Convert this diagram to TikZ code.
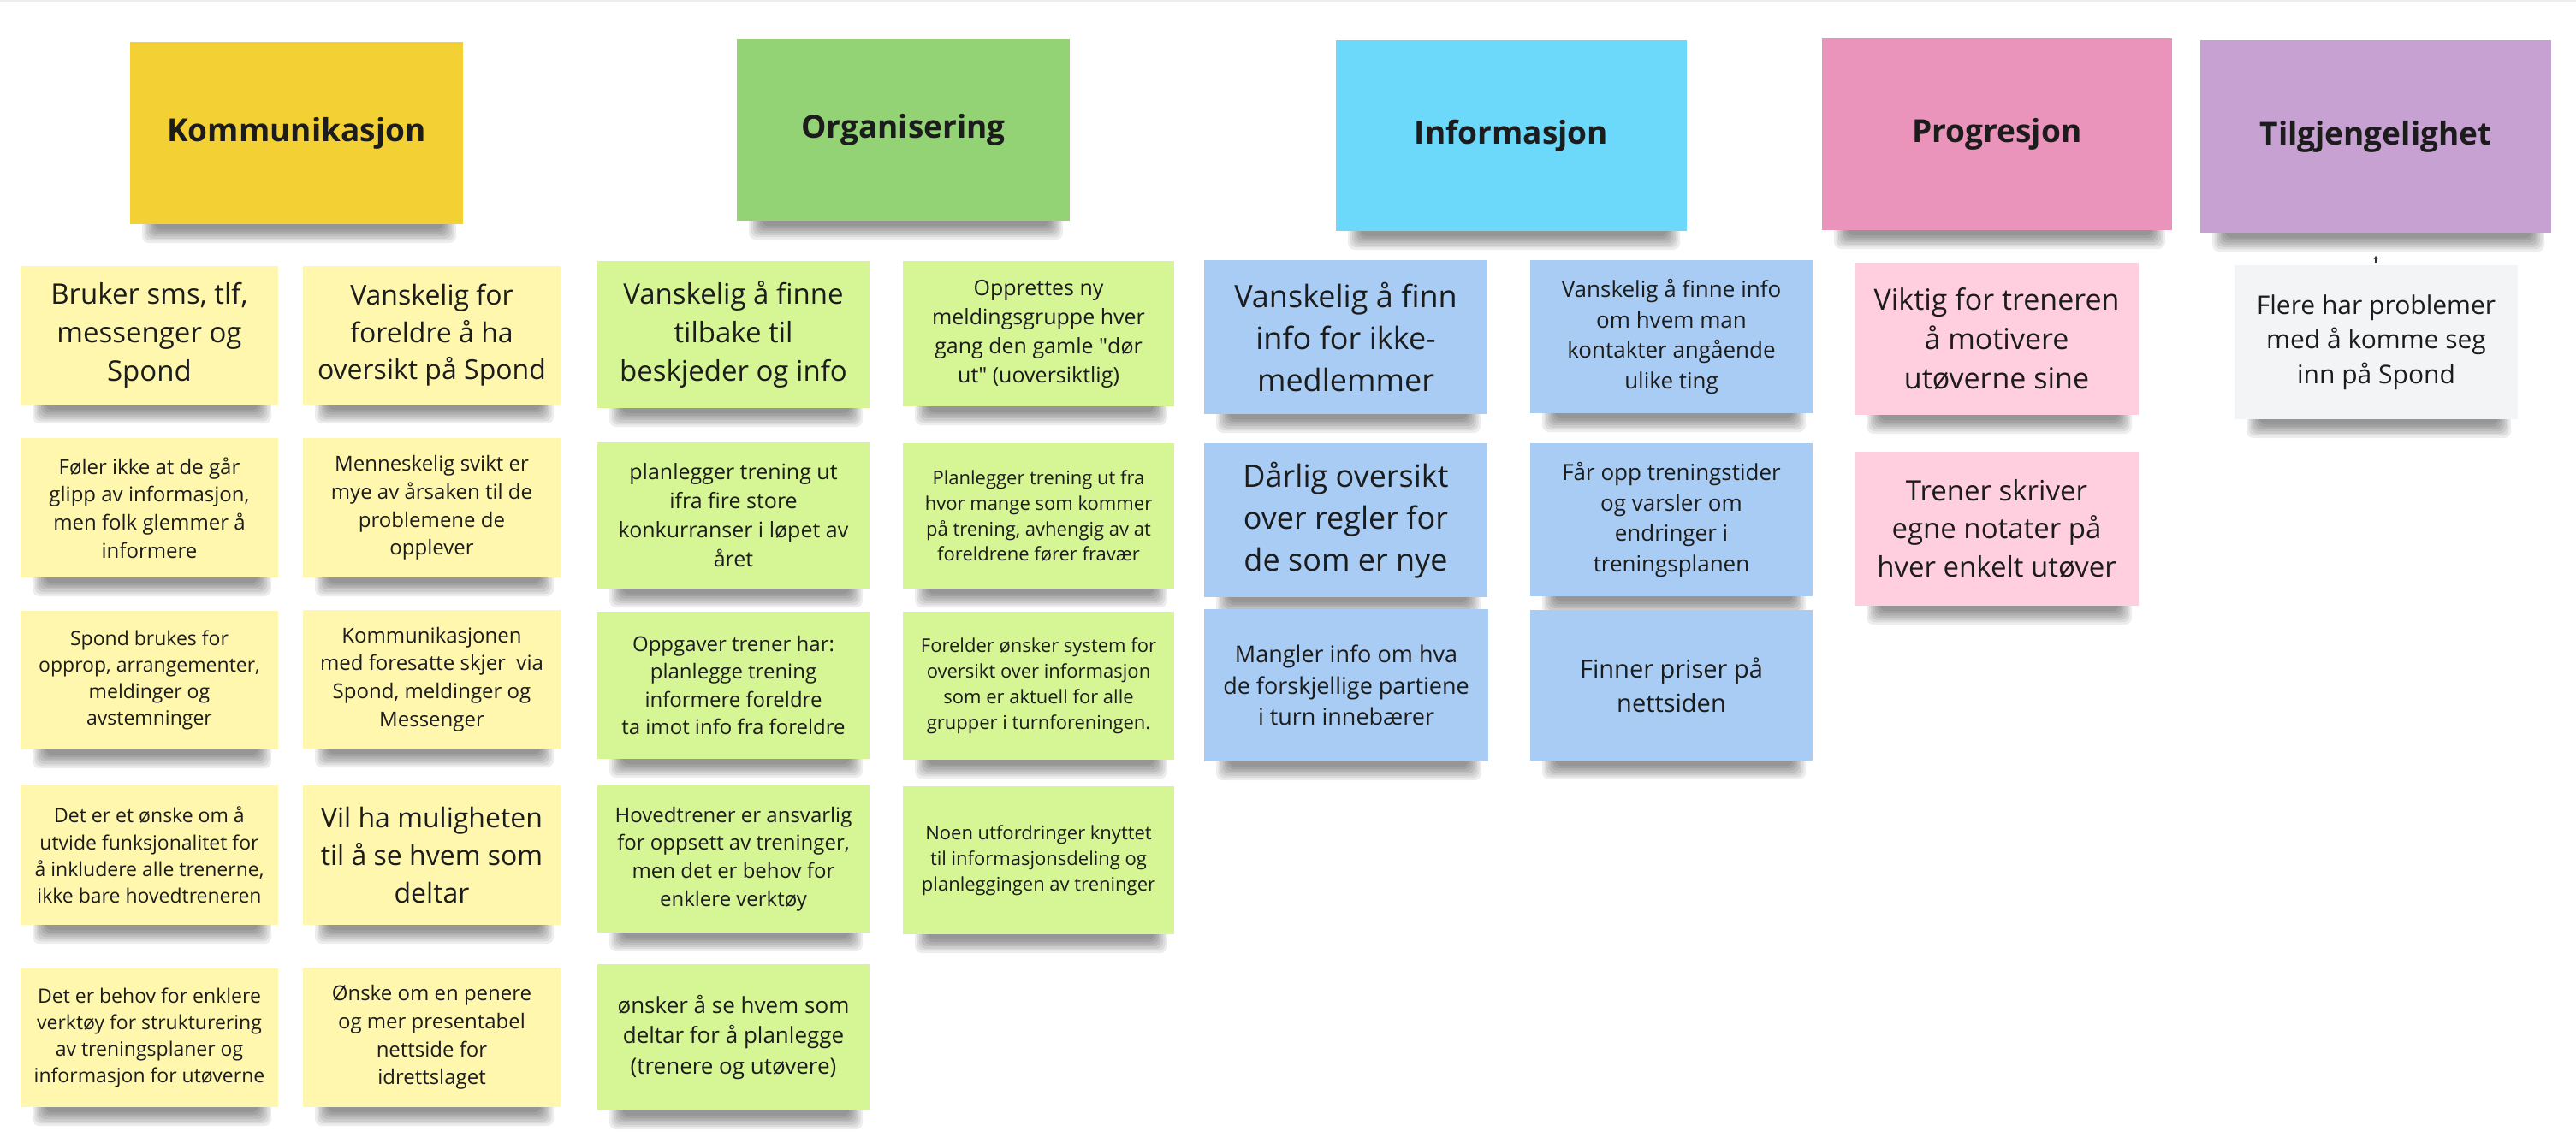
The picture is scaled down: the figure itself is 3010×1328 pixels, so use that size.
\documentclass[tikz,border=0pt]{standalone}
\usepackage{fontspec}
\setmainfont{Open Sans}
\usetikzlibrary{arrows.meta}

% sticky-note palette
\definecolor{hdYellow}{HTML}{F3D033}
\definecolor{hdGreen}{HTML}{93D275}
\definecolor{hdCyan}{HTML}{6CD8FA}
\definecolor{hdPink}{HTML}{EA94BB}
\definecolor{hdViolet}{HTML}{C6A1D1}
\definecolor{ntYellow}{HTML}{FFF7AE}
\definecolor{ntGreen}{HTML}{D6F595}
\definecolor{ntBlue}{HTML}{A8CCF3}
\definecolor{ntPink}{HTML}{FFCEDF}
\definecolor{ntGray}{HTML}{F3F4F6}
\definecolor{ink}{HTML}{1C1C1C}

\tikzset{
  note/.style={draw=none, inner sep=0pt, align=center, text=ink},
  yellowhead/.style={fill=hdYellow},
  greenhead/.style={fill=hdGreen},
  cyanhead/.style={fill=hdCyan},
  pinkhead/.style={fill=hdPink},
  violethead/.style={fill=hdViolet},
  yellownote/.style={fill=ntYellow},
  greennote/.style={fill=ntGreen},
  bluenote/.style={fill=ntBlue},
  pinknote/.style={fill=ntPink},
  graynote/.style={fill=ntGray},
  shadowlayer/.style={fill=black, opacity=0.07, rounded corners=8pt},
}

% \sticky{name}{x1}{y1}{x2}{y2}{style}{font size}{text}
\newcommand\sticky[8]{%
  \foreach \k in {0,...,6}{%
    \fill[shadowlayer] ({#2+14+2.5*\k},{#5-8}) rectangle ({#4-8-2.5*\k},{#5+22-2.6*\k});
  }%
  \node[note, #6, minimum width={(#4-#2)*1pt}, minimum height={(#5-#3)*1pt},
        font=\fontsize{#7}{\dimexpr #7pt*136/100\relax}\selectfont]
    (#1) at ({(#2+#4)/2},{(#3+#5)/2}) {#8};
}
% header notes use the bold face
\newcommand\header[7]{%
  \foreach \k in {0,...,6}{%
    \fill[shadowlayer] ({#2+14+2.5*\k},{#5-8}) rectangle ({#4-8-2.5*\k},{#5+22-2.6*\k});
  }%
  \node[note, #6, minimum width={(#4-#2)*1pt}, minimum height={(#5-#3)*1pt},
        font=\fontsize{#7}{\dimexpr #7pt*136/100\relax}\selectfont\bfseries]
    (#1) at ({(#2+#4)/2},{(#3+#5)/2}) {#1};
}

\begin{document}
\begin{tikzpicture}[x=1pt, y=-1pt]
  \useasboundingbox (0,0) rectangle (3010,1328);
  \fill[white] (0,0) rectangle (3010,1328);
  \fill[black!7] (0,0) rectangle (3010,2);

  % category headers
  \header{Kommunikasjon}{152}{49}{541}{262}{yellowhead}{37}
  \header{Organisering}{861}{46}{1250}{258}{greenhead}{37}
  \header{Informasjon}{1561}{47}{1971}{270}{cyanhead}{37}
  \header{Progresjon}{2129}{45}{2538}{269}{pinkhead}{37}
  \header{Tilgjengelighet}{2571}{47}{2981}{272}{violethead}{37}

  % Kommunikasjon, first column
  \sticky{k1}{24}{311}{325}{473}{yellownote}{33}{Bruker sms, tlf,\\messenger og\\Spond}
  \sticky{k2}{24}{512}{325}{675}{yellownote}{24}{Føler ikke at de går\\glipp av informasjon,\\men folk glemmer å\\informere}
  \sticky{k3}{24}{714}{325}{876}{yellownote}{23}{Spond brukes for\\opprop, arrangementer,\\meldinger og\\avstemninger}
  \sticky{k4}{24}{918}{325}{1081}{yellownote}{23}{Det er et ønske om å\\utvide funksjonalitet for\\å inkludere alle trenerne,\\ikke bare hovedtreneren}
  \sticky{k5}{24}{1132}{325}{1294}{yellownote}{23}{Det er behov for enklere\\verktøy for strukturering\\av treningsplaner og\\informasjon for utøverne}

  % Kommunikasjon, second column
  \sticky{k6}{354}{311}{655}{473}{yellownote}{32}{Vanskelig for\\foreldre å ha\\oversikt på Spond}
  \sticky{k7}{354}{512}{655}{675}{yellownote}{24}{Menneskelig svikt er\\mye av årsaken til de\\problemene de\\opplever}
  \sticky{k8}{354}{713}{655}{875}{yellownote}{24}{Kommunikasjonen\\med foresatte skjer~ via\\Spond, meldinger og\\Messenger}
  \sticky{k9}{354}{918}{655}{1081}{yellownote}{32}{Vil ha muligheten\\til å se hvem som\\deltar}
  \sticky{k10}{354}{1131}{655}{1294}{yellownote}{24}{Ønske om en penere\\og mer presentabel\\nettside for\\idrettslaget}

  % Organisering, first column
  \sticky{o1}{698}{305}{1016}{477}{greennote}{33}{Vanskelig å finne\\tilbake til\\beskjeder og info}
  \sticky{o2}{698}{517}{1016}{688}{greennote}{25}{planlegger trening ut\\ifra fire store\\konkurranser i løpet av\\året}
  \sticky{o3}{698}{715}{1016}{887}{greennote}{24}{Oppgaver trener har:\\planlegge trening\\informere foreldre\\ta imot info fra foreldre}
  \sticky{o4}{698}{918}{1016}{1090}{greennote}{24}{Hovedtrener er ansvarlig\\for oppsett av treninger,\\men det er behov for\\enklere verktøy}
  \sticky{o5}{698}{1127}{1016}{1298}{greennote}{26}{ønsker å se hvem som\\deltar for å planlegge\\(trenere og utøvere)}

  % Organisering, second column
  \sticky{o6}{1055}{305}{1372}{475}{greennote}{25}{Opprettes ny\\meldingsgruppe hver\\gang den gamle \textquotedbl dør\\ut\textquotedbl{} (uoversiktlig)}
  \sticky{o7}{1055}{518}{1372}{688}{greennote}{22}{Planlegger trening ut fra\\hvor mange som kommer\\på trening, avhengig av at\\foreldrene fører fravær}
  \sticky{o8}{1055}{715}{1372}{888}{greennote}{22}{Forelder ønsker system for\\oversikt over informasjon\\som er aktuell for alle\\grupper i turnforeningen.}
  \sticky{o9}{1055}{919}{1372}{1092}{greennote}{22}{Noen utfordringer knyttet\\til informasjonsdeling og\\planleggingen av treninger}

  % Informasjon, first column
  \sticky{i1}{1407}{304}{1738}{484}{bluenote}{36}{Vanskelig å finn\\info for ikke-\\medlemmer}
  \sticky{i2}{1407}{518}{1738}{698}{bluenote}{36}{Dårlig oversikt\\over regler for\\de som er nye}
  \sticky{i3}{1407}{712}{1739}{890}{bluenote}{27}{Mangler info om hva\\de forskjellige partiene\\i turn innebærer}

  % Informasjon, second column
  \sticky{i4}{1788}{304}{2118}{483}{bluenote}{26}{Vanskelig å finne info\\om hvem man\\kontakter angående\\ulike ting}
  \sticky{i5}{1788}{518}{2118}{697}{bluenote}{26}{Får opp treningstider\\og varsler om\\endringer i\\treningsplanen}
  \sticky{i6}{1788}{713}{2118}{889}{bluenote}{29}{Finner priser på\\nettsiden}

  % Progresjon
  \sticky{p1}{2167}{307}{2499}{485}{pinknote}{34}{Viktig for treneren\\å motivere\\utøverne sine}
  \sticky{p2}{2167}{528}{2499}{708}{pinknote}{33}{Trener skriver\\egne notater på\\hver enkelt utøver}

  % Tilgjengelighet
  \sticky{t1}{2611}{310}{2942}{490}{graynote}{30}{Flere har problemer\\med å komme seg\\inn på Spond}

  % small marker above the grey note
  \coordinate (mk) at (2776,306);
  \draw[black!80, line width=1.2pt, -{Stealth[length=4pt,width=5pt]}] (t1.north -| mk) ++(0,-3) -- (mk) -- ++(0,-7);
\end{tikzpicture}
\end{document}
